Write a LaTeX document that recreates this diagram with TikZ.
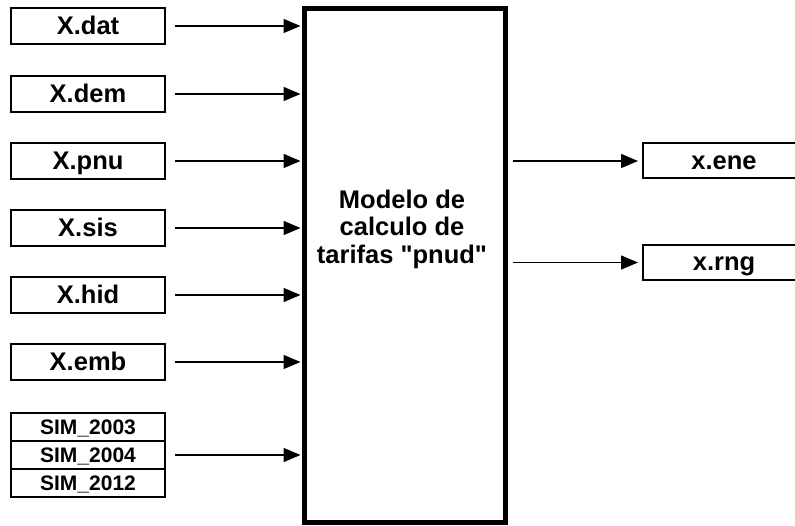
\documentclass[tikz,border=0pt]{standalone}
\usepackage{fontspec}
\setmainfont{Liberation Sans}
\usetikzlibrary{arrows.meta}
\tikzset{
  filebox/.style={draw, line width=2pt, outer sep=0pt, inner sep=0pt, minimum width=154pt, minimum height=36pt, text height=18pt, text depth=1pt, font=\bfseries\fontsize{25.5}{27}\selectfont},
  simbox/.style={draw, line width=1.8pt, outer sep=0pt, inner sep=0pt, minimum width=154pt, minimum height=28pt, text height=15pt, text depth=1pt, font=\bfseries\fontsize{21}{23}\selectfont},
  outbox/.style={draw, line width=2pt, outer sep=0pt, inner sep=0pt, minimum width=162pt, minimum height=35pt, text height=18pt, text depth=1pt, font=\bfseries\fontsize{25.5}{27}\selectfont},
  mainbox/.style={draw, line width=5pt, outer sep=0pt, inner sep=0pt, minimum width=201pt, minimum height=513pt},
  maintext/.style={align=center, inner sep=0pt, font=\bfseries\fontsize{25.5}{27.5}\selectfont},
  flow/.style={line width=1.5pt, -{Triangle[length=17pt,width=14pt]}}
}
\begin{document}
\begin{tikzpicture}[x=1pt,y=-1pt]
\useasboundingbox (0,0) rectangle (795,526);
\clip (0,0) rectangle (795,526);
\node[mainbox] (main) at (404.5,265.5) {};
\node[maintext] (label) at (402,229) {Modelo de\\calculo de\\tarifas \textquotedbl pnud\textquotedbl};
\node[filebox] (dat) at (88,26) {X.dat};
\node[filebox] (dem) at (88,94) {X.dem};
\node[filebox] (pnu) at (88,161) {X.pnu};
\node[filebox] (sis) at (88,228) {X.sis};
\node[filebox] (hid) at (88,295) {X.hid};
\node[filebox] (emb) at (88,362) {X.emb};
\node[simbox] (s3) at (88,427) {SIM\_2003};
\node[simbox] (s4) at (88,455) {SIM\_2004};
\node[simbox] (s12) at (88,483) {SIM\_2012};
\node[outbox] (ene) at (724,161) {x.ene};
\node[outbox] (rng) at (724,262.5) {x.rng};
\foreach \n in {dat,dem,pnu,sis,hid,emb,s4}{
  \draw[flow, shorten <=10pt, shorten >=3.5pt] (\n.east) -- (\n.east -| main.west);
}
\foreach \n in {ene,rng}{
  \draw[flow, shorten <=8pt, shorten >=5pt] (main.east |- \n.west) -- (\n.west);
}
\end{tikzpicture}
\end{document}
